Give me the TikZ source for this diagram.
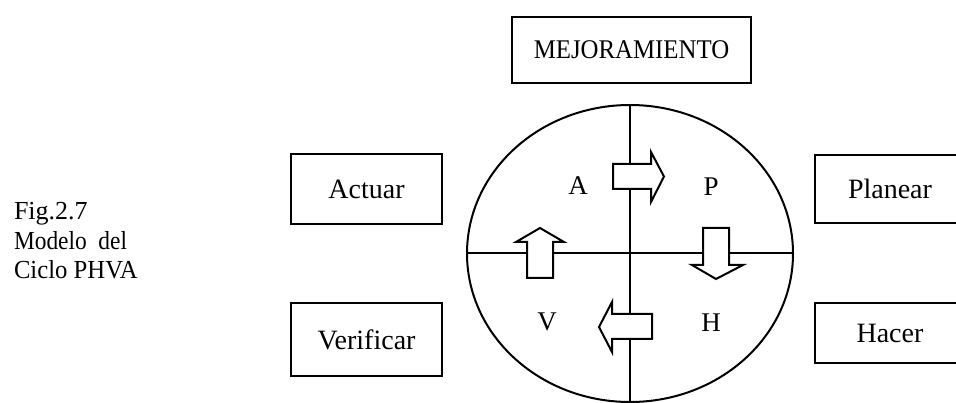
\documentclass[tikz,border=0pt]{standalone}
\usepackage{fontspec}
\setmainfont{Liberation Serif}
\usetikzlibrary{shapes.geometric}
\begin{document}
\begin{tikzpicture}[x=1pt,y=-1pt, line width=2pt,
  txt/.style={font=\fontsize{27}{30}\selectfont, inner sep=0pt},
  captxt/.style={font=\fontsize{26}{30}\selectfont, inner sep=0pt},
  box/.style={draw, rectangle, inner sep=0pt, font=\fontsize{28}{30}\selectfont},
  arr/.style={draw, fill=white, line join=miter}]
\useasboundingbox (0,0) rectangle (956,403);
\clip (0,0) rectangle (956,403);
% caption
\node[captxt, anchor=base west] (cap1) at (13,220) {Fig.2.7};
\node[captxt, anchor=base west] (cap2a) at (13,250) {\scalebox{0.9}[1]{Modelo}};
\node[captxt, anchor=base east] (cap2b) at (128,250) {\scalebox{0.9}[1]{del}};
\node[captxt, anchor=base west] (cap3) at (13,279) {\scalebox{0.95}[1]{Ciclo PHVA}};
% top box
\node[box, minimum width=239pt, minimum height=66pt, font=\fontsize{27}{30}\selectfont] (mej) at (631.5,50) {\scalebox{0.92}[1]{MEJORAMIENTO}};
% side boxes
\node[box, minimum width=151pt, minimum height=70pt] (act) at (366.5,189) {Actuar};
\node[box, minimum width=151pt, minimum height=73pt] (ver) at (366.5,339.5) {Verificar};
\node[box, minimum width=150pt, minimum height=68pt] (pla) at (890,189) {Planear};
\node[box, minimum width=150pt, minimum height=60pt] (hac) at (890,333) {Hacer};
% circle
\node[draw, ellipse, minimum width=326pt, minimum height=297pt, inner sep=0pt, outer sep=0pt] (c) at (630,253.5) {};
\draw (c.north) -- (c.south);
\draw (c.west) -- (c.east);
% quadrant letters
\node[txt] (qa) at (578,186) {A};
\node[txt] (qp) at (711,187) {P};
\node[txt] (qv) at (547,322) {V};
\node[txt] (qh) at (711,323) {H};
% arrows
\draw[arr] (613,164) -- (651,164) -- (651,152) -- (664,176.5) -- (651,202) -- (651,189) -- (613,189) -- cycle;
\draw[arr] (703,228) -- (729,228) -- (729,265) -- (743,265) -- (716,279) -- (692,265) -- (703,265) -- cycle;
\draw[arr] (527,278) -- (553,278) -- (553,242) -- (564,242) -- (540,228) -- (516,242) -- (527,242) -- cycle;
\draw[arr] (652,314) -- (652,339) -- (612,339) -- (612,352) -- (599,327) -- (612,302) -- (612,314) -- cycle;
\end{tikzpicture}
\end{document}
